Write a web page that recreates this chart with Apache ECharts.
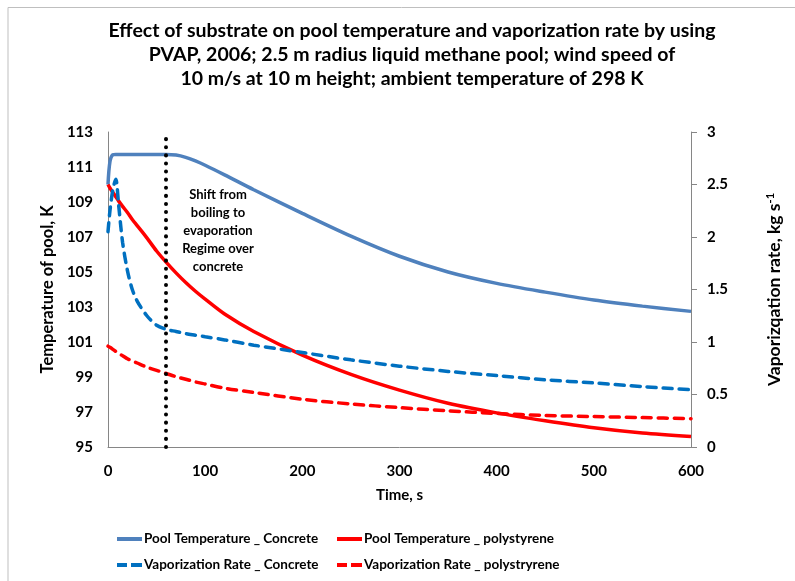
<!DOCTYPE html>
<html>
<head>
<meta charset="utf-8">
<script src="https://cdn.jsdelivr.net/npm/echarts@6/dist/echarts.min.js"></script>
<style>
html,body{margin:0;padding:0;background:#fff;}
#c{width:795px;height:581px;}
</style>
</head>
<body>
<div id="c"></div>
<script>
// ---- data ----
var titleLines = [
  'Effect of substrate on pool temperature and vaporization rate by using',
  'PVAP, 2006; 2.5 m radius liquid methane pool; wind speed of',
  '10 m/s at 10 m height; ambient temperature of 298 K'
];
var seriesNames = [
  'Pool Temperature _ Concrete',
  'Pool Temperature _ polystyrene',
  'Vaporization Rate _ Concrete',
  'Vaporization Rate _ polystryrene'
];
var time = [0, 2, 5, 8, 11, 15, 20, 25, 30, 40, 50, 60, 70, 80, 90, 100, 120, 150, 200, 250, 300, 350, 400, 450, 500, 550, 600];
var tempConcrete = [110.0, 111.3, 111.7, 111.72, 111.72, 111.72, 111.72, 111.72, 111.72, 111.72, 111.72, 111.72, 111.68, 111.55, 111.35, 111.1, 110.55, 109.7, 108.35, 107.05, 105.9, 105.0, 104.35, 103.85, 103.4, 103.05, 102.75];
var tempPolystyrene = [110.0, 109.8, 109.55, 109.3, 109.05, 108.75, 108.4, 108.0, 107.65, 106.95, 106.2, 105.55, 104.95, 104.4, 103.9, 103.45, 102.6, 101.6, 100.25, 99.15, 98.25, 97.5, 96.95, 96.5, 96.1, 95.8, 95.6];
var rateConcrete = [2.05, 2.25, 2.45, 2.55, 2.3, 1.95, 1.68, 1.5, 1.39, 1.25, 1.16, 1.12, 1.1, 1.08, 1.065, 1.05, 1.02, 0.97, 0.9, 0.83, 0.77, 0.72, 0.68, 0.64, 0.61, 0.575, 0.545];
var ratePolystyrene = [0.96, 0.95, 0.93, 0.91, 0.89, 0.87, 0.84, 0.82, 0.8, 0.76, 0.73, 0.7, 0.67, 0.645, 0.62, 0.6, 0.56, 0.52, 0.455, 0.41, 0.375, 0.345, 0.32, 0.3, 0.29, 0.28, 0.27];
var shiftTime = 59;
var shiftText = 'Shift from\nboiling to\nevaporation\nRegime over\nconcrete';
var xTicks = {min: 0, max: 600, interval: 100};
var yLeftTicks = {min: 95, max: 113, interval: 2};
var yRightTicks = {min: 0, max: 3, interval: 0.5};

function pairs(xs, ys) { return xs.map(function (x, i) { return [x, ys[i]]; }); }

var FONT = 'Lato';
var solidIcon = 'path://M0,0L25,0L25,4L0,4Z';
var dashIcon = 'path://M0,0L10,0L10,4L0,4Z M14,0L25,0L25,4L14,4Z';
var chart = echarts.init(document.getElementById('c'), null, {renderer: 'canvas'});
var axisLine = {show: true, lineStyle: {color: '#868686', width: 1}};
var lblStyle = {color: '#000', fontFamily: FONT, fontWeight: 'bold', fontSize: 15};
var legendText = {fontFamily: FONT, fontWeight: 'bold', fontSize: 13.5, color: '#000', padding: [0, 0, 0, -3]};

var option = {
  backgroundColor: '#fff',
  animation: false,
  title: {
    text: titleLines.join('\n'),
    left: 407, top: 14, textAlign: 'center',
    textStyle: {fontFamily: FONT, fontWeight: 'bold', fontSize: 19.5, lineHeight: 24, color: '#000'}
  },
  grid: {left: 108, right: 104, top: 132, bottom: 134, containLabel: false},
  legend: [
    {
      data: [{name: seriesNames[0], icon: solidIcon}, {name: seriesNames[2], icon: dashIcon}],
      orient: 'vertical', left: 112, top: 527,
      itemWidth: 25, itemHeight: 4, itemGap: 12, textStyle: legendText
    },
    {
      data: [{name: seriesNames[1], icon: solidIcon}, {name: seriesNames[3], icon: dashIcon}],
      orient: 'vertical', left: 332, top: 527,
      itemWidth: 25, itemHeight: 4, itemGap: 12, textStyle: legendText
    }
  ],
  xAxis: {
    type: 'value', min: xTicks.min, max: xTicks.max, interval: xTicks.interval,
    name: 'Time, s', nameLocation: 'middle', nameGap: 41,
    nameTextStyle: {fontFamily: FONT, fontWeight: 'bold', fontSize: 15, color: '#000'},
    axisLine: axisLine, axisTick: {show: false}, splitLine: {show: false},
    axisLabel: Object.assign({margin: 17}, lblStyle)
  },
  yAxis: [
    {
      type: 'value', min: yLeftTicks.min, max: yLeftTicks.max, interval: yLeftTicks.interval,
      position: 'left',
      name: 'Temperature of pool, K', nameLocation: 'middle', nameGap: 52,
      nameTextStyle: {fontFamily: FONT, fontWeight: 'bold', fontSize: 16.5, color: '#000'},
      axisLine: axisLine, axisTick: {show: false}, splitLine: {show: false},
      axisLabel: Object.assign({margin: 15}, lblStyle)
    },
    {
      type: 'value', min: yRightTicks.min, max: yRightTicks.max, interval: yRightTicks.interval,
      position: 'right',
      name: 'Vaporizqation rate, kg s{sup|-1}', nameLocation: 'middle', nameGap: 74, nameRotate: 90,
      nameTextStyle: {fontFamily: FONT, fontWeight: 'bold', fontSize: 17.5, color: '#000',
        rich: {sup: {fontFamily: FONT, fontWeight: 'bold', fontSize: 11, color: '#000', verticalAlign: 'top', padding: [0, 0, 8, 0]}}},
      axisLine: axisLine, axisTick: {show: true, inside: false, length: 6, lineStyle: {color: '#868686'}},
      splitLine: {show: false},
      axisLabel: Object.assign({margin: 16}, lblStyle)
    }
  ],
  series: [
    {
      name: seriesNames[0], type: 'line', yAxisIndex: 0, smooth: 0.3, symbol: 'none',
      data: pairs(time, tempConcrete),
      itemStyle: {color: '#4F81BD'},
      lineStyle: {color: '#4F81BD', width: 3.5},
      markLine: {
        silent: true, symbol: 'none', label: {show: false},
        lineStyle: {color: '#000', width: 4, type: [0.1, 8], cap: 'round'},
        data: [{xAxis: shiftTime}]
      }
    },
    {
      name: seriesNames[1], type: 'line', yAxisIndex: 0, smooth: 0.3, symbol: 'none',
      data: pairs(time, tempPolystyrene),
      itemStyle: {color: '#FF0000'},
      lineStyle: {color: '#FF0000', width: 3.5}
    },
    {
      name: seriesNames[2], type: 'line', yAxisIndex: 1, smooth: 0.3, symbol: 'none',
      data: pairs(time, rateConcrete),
      itemStyle: {color: '#0070C0'},
      lineStyle: {color: '#0070C0', width: 3.5, type: [9, 7], cap: 'round'}
    },
    {
      name: seriesNames[3], type: 'line', yAxisIndex: 1, smooth: 0.3, symbol: 'none',
      data: pairs(time, ratePolystyrene),
      itemStyle: {color: '#FF0000'},
      lineStyle: {color: '#FF0000', width: 3.5, type: [9, 7], cap: 'round'}
    }
  ],
  graphic: [
    {type: 'polyline', silent: true, shape: {points: [[8, 581], [8, 7.5], [795, 7.5]]},
      style: {stroke: '#BFBFBF', lineWidth: 1, fill: null}},
    {type: 'text', silent: true, left: 218 - 45, top: 186,
      style: {text: shiftText, fontFamily: FONT, fontWeight: 'bold', fontSize: 13, lineHeight: 18,
        fill: '#000', textAlign: 'center', width: 90}}
  ]
};
chart.setOption(option);
</script>
</body>
</html>
